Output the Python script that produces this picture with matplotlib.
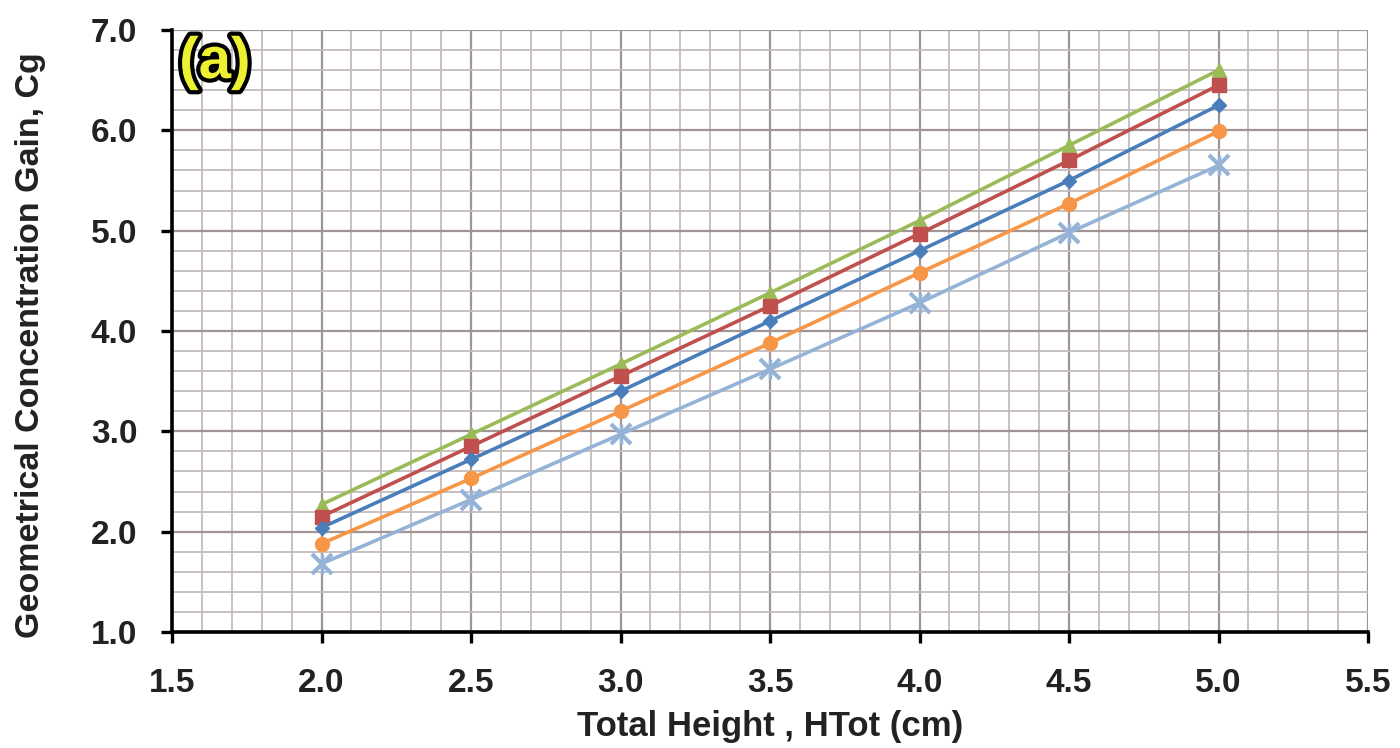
import matplotlib
matplotlib.use("Agg")
import matplotlib.pyplot as plt
import matplotlib.patheffects as pe
from matplotlib.ticker import MultipleLocator, FormatStrFormatter

plt.rcParams['font.family'] = ['Liberation Sans', 'DejaVu Sans']

htot = [2.0, 2.5, 3.0, 3.5, 4.0, 4.5, 5.0]
cg_green = [2.27, 2.97, 3.67, 4.38, 5.10, 5.85, 6.60]
cg_red = [2.15, 2.85, 3.55, 4.25, 4.97, 5.70, 6.45]
cg_blue = [2.04, 2.72, 3.40, 4.10, 4.80, 5.50, 6.25]
cg_orange = [1.88, 2.53, 3.20, 3.88, 4.58, 5.27, 5.99]
cg_lightblue = [1.68, 2.32, 2.97, 3.62, 4.28, 4.98, 5.65]

fig = plt.figure(figsize=(14, 7.48), dpi=100)
ax = fig.add_axes([172/1400, 1-632/748, (1368-172)/1400, (632-30)/748])

series = [
    (cg_green, '#9BBB59', '^', 10),
    (cg_red, '#C0504D', 's', 10),
    (cg_blue, '#4A7EBB', 'D', 7),
    (cg_orange, '#F79646', 'o', 10),
    (cg_lightblue, '#95B3D7', 'x', 14),
]
for y, c, m, ms in series:
    ax.plot(htot, y, color=c, marker=m, markersize=ms, linewidth=2.6,
            markeredgewidth=3 if m == 'x' else 1, zorder=3)
# vertical strokes completing the asterisk-like markers
ax.plot(htot, cg_lightblue, linestyle='none', marker='|', markersize=14,
        markeredgewidth=2.5, color='#95B3D7', zorder=3)

ax.set_xlim(1.5, 5.5)
ax.set_ylim(1.0, 7.0)
ax.xaxis.set_major_locator(MultipleLocator(0.5))
ax.yaxis.set_major_locator(MultipleLocator(1.0))
ax.xaxis.set_minor_locator(MultipleLocator(0.1))
ax.yaxis.set_minor_locator(MultipleLocator(0.2))
ax.xaxis.set_major_formatter(FormatStrFormatter('%.1f'))
ax.yaxis.set_major_formatter(FormatStrFormatter('%.1f'))

ax.grid(which='major', color='#a09494', linewidth=1.6, zorder=0)
ax.grid(which='minor', color='#c4bcbc', linewidth=1.3, zorder=0)
ax.set_axisbelow(True)

for s in ['top', 'right']:
    ax.spines[s].set_visible(False)
for s in ['left', 'bottom']:
    ax.spines[s].set_linewidth(2.6)
    ax.spines[s].set_color('black')

ax.tick_params(which='major', direction='out', length=8, width=2.4, labelsize=24,
               colors='black')
ax.tick_params(axis='y', pad=17)
ax.tick_params(axis='x', pad=18)
ax.tick_params(which='minor', length=0)
for lab in ax.get_xticklabels() + ax.get_yticklabels():
    lab.set_fontweight('bold')
    lab.set_color('#222222')

ax.set_xlabel('Total Height , HTot (cm)', fontsize=25, fontweight='bold', color='#222222')
ax.set_ylabel('Geometrical Concentration Gain, Cg', fontsize=24.5, fontweight='bold',
              color='#222222')
ax.xaxis.set_label_coords(0.5, -0.13)
ax.yaxis.set_label_coords(-0.105, 0.477)

ax.text(0.006, 0.99, '(a)', transform=ax.transAxes, fontsize=42, fontweight='bold',
        color='#eef032', va='top', ha='left',
        path_effects=[pe.withStroke(linewidth=6, foreground='black')])

fig.savefig('out.png', dpi=100)
